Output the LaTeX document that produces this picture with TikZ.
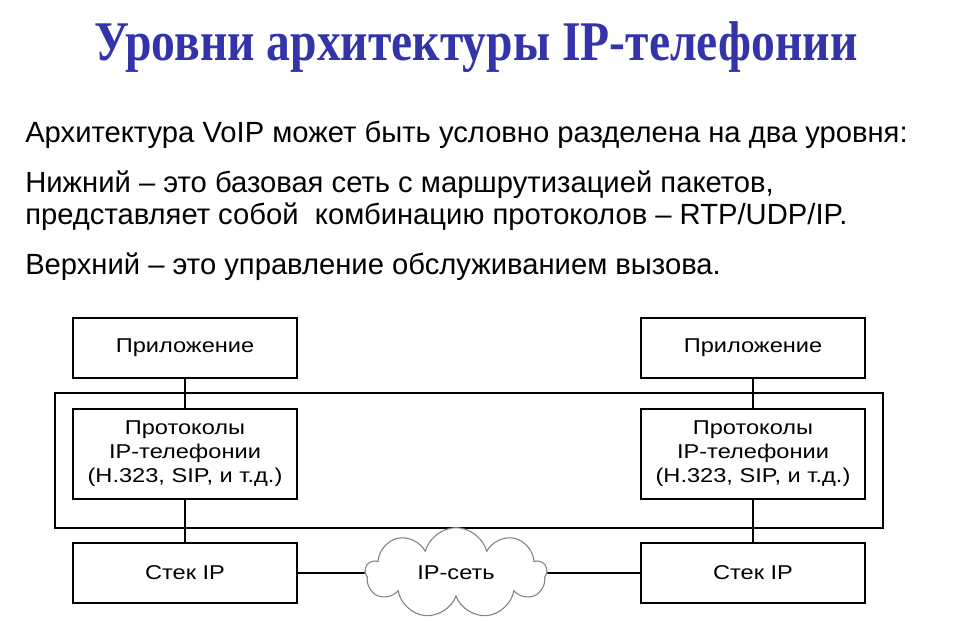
\documentclass[tikz,border=0pt]{standalone}
\usepackage{fontspec}
\setmainfont{Liberation Sans}
\newfontfamily\titlefont[FakeStretch=0.85]{Liberation Serif}
\newfontfamily\boxfont[FakeStretch=1.18]{Liberation Sans}
\usetikzlibrary{shapes.symbols}
\definecolor{titleblue}{RGB}{51,51,170}
\tikzset{
  layerbox/.style={draw, line width=1.1pt, fill=white, minimum width=168pt,
    align=center, font=\boxfont\fontsize{15}{18}\selectfont},
  bodyline/.style={anchor=base west, inner sep=0pt, font=\fontsize{21.9}{26}\selectfont},
  link/.style={line width=1.2pt}
}
\begin{document}
\begin{tikzpicture}[x=0.75pt, y=-0.75pt]
%\draw [help lines, step=50] (0,0) grid (953,629);
\useasboundingbox (0,0) rectangle (953,629);

\node [anchor=base, text=titleblue, font=\titlefont\bfseries\fontsize{42}{48}\selectfont] (title) at (476,60) {Уровни архитектуры IP-телефонии};

\node [bodyline] (l1) at (25,142) {Архитектура VoIP может быть условно разделена на два уровня:};
\node [bodyline] (l2) at (25,192) {Нижний – это базовая сеть с маршрутизацией пакетов,};
\node [bodyline] (l3) at (25,224) {представляет собой\ \ комбинацию протоколов – RTP/UDP/IP.};
\node [bodyline] (l4) at (25,274) {Верхний – это управление обслуживанием вызова.};

\draw [link] (55,393) rectangle (883,528);

\node [layerbox, minimum height=45pt] (appL) at (185,348) {Приложение};
\node [layerbox, minimum height=67.5pt] (protL) at (185,454) {Протоколы\\IP-телефонии\\(H.323, SIP, и т.д.)};
\node [layerbox, minimum height=45pt] (stackL) at (185,573) {Стек IP};

\node [layerbox, minimum height=45pt] (appR) at (753,348) {Приложение};
\node [layerbox, minimum height=67.5pt] (protR) at (753,454) {Протоколы\\IP-телефонии\\(H.323, SIP, и т.д.)};
\node [layerbox, minimum height=45pt] (stackR) at (753,573) {Стек IP};

\node [cloud, cloud puffs=9, cloud ignores aspect, draw=gray, line width=0.8pt, fill=white,
  minimum width=136pt, minimum height=68pt, font=\boxfont\fontsize{15}{18}\selectfont] (net) at (456,573) {IP-сеть};

\draw [link] (appL) -- (protL);
\draw [link] (protL) -- (stackL);
\draw [link] (appR) -- (protR);
\draw [link] (protR) -- (stackR);
\draw [link] (stackL.east) -- (net.west);
\draw [link] (net.east) -- (stackR.west);

\end{tikzpicture}
\end{document}
